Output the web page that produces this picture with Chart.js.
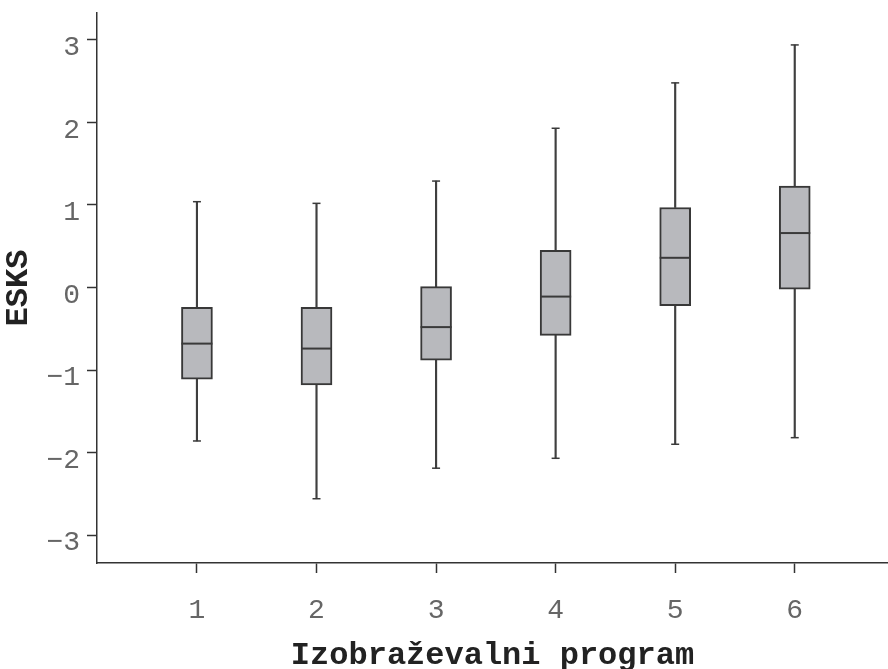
<!DOCTYPE html>
<html>
<head>
<meta charset="utf-8">
<script src="https://cdn.jsdelivr.net/npm/chart.js@4/dist/chart.umd.min.js"></script>
<style>
  html, body { margin: 0; padding: 0; background: #fff; }
</style>
</head>
<body>
<canvas id="chart" width="888" height="669"></canvas>
<script>
// box plot values
const programs = [1, 2, 3, 4, 5, 6];
const whiskerLow = [-1.86, -2.56, -2.19, -2.07, -1.90, -1.82];
const quartile1 = [-1.11, -1.18, -0.88, -0.58, -0.22, -0.02];
const medians = [-0.68, -0.74, -0.48, -0.11, 0.36, 0.66];
const quartile3 = [-0.24, -0.24, 0.01, 0.45, 0.97, 1.23];
const whiskerHigh = [1.04, 1.02, 1.29, 1.93, 2.48, 2.94];
const yTicks = [-3, -2, -1, 0, 1, 2, 3];

const BOX_WIDTH = 31;
const CAP_WIDTH = 8;

// caps and median lines, placed with the chart scales
const boxExtras = {
  id: 'boxExtras',
  afterDatasetsDraw(chart) {
    const { ctx, scales: { x, y } } = chart;
    ctx.save();
    ctx.strokeStyle = '#3a3a3a';
    programs.forEach((p, i) => {
      const px = x.getPixelForValue(p);
      ctx.lineWidth = 1.5;
      [whiskerLow[i], whiskerHigh[i]].forEach((v) => {
        const py = y.getPixelForValue(v);
        ctx.beginPath();
        ctx.moveTo(px - CAP_WIDTH / 2, py);
        ctx.lineTo(px + CAP_WIDTH / 2, py);
        ctx.stroke();
      });
      ctx.lineWidth = 2;
      const my = y.getPixelForValue(medians[i]);
      ctx.beginPath();
      ctx.moveTo(px - BOX_WIDTH / 2, my);
      ctx.lineTo(px + BOX_WIDTH / 2, my);
      ctx.stroke();
    });
    ctx.restore();
  },
};

const tickFont = { family: 'Liberation Mono', size: 28 };
const titleFont = { family: 'Liberation Mono', size: 32, weight: 'bold' };

const ctx = document.getElementById('chart').getContext('2d');
// eslint-disable-next-line no-unused-vars
const boxChart = new Chart(ctx, {
  type: 'bar',
  data: {
    datasets: [
      {
        data: programs.map((p, i) => ({ x: p, y: [whiskerLow[i], quartile1[i]] })),
        backgroundColor: '#3f3f3f',
        borderWidth: 0,
        barThickness: 1.5,
        grouped: false,
        order: 2,
      },
      {
        data: programs.map((p, i) => ({ x: p, y: [quartile3[i], whiskerHigh[i]] })),
        backgroundColor: '#3f3f3f',
        borderWidth: 0,
        barThickness: 1.5,
        grouped: false,
        order: 2,
      },
      {
        data: programs.map((p, i) => ({ x: p, y: [quartile1[i], quartile3[i]] })),
        backgroundColor: '#b8b9bd',
        borderColor: '#383838',
        borderWidth: 2,
        borderSkipped: false,
        barThickness: BOX_WIDTH,
        grouped: false,
        order: 1,
      },
    ],
  },
  options: {
    responsive: false,
    animation: false,
    layout: { padding: { top: 13, right: 0, bottom: 0, left: 0 } },
    plugins: {
      legend: { display: false },
      tooltip: { enabled: false },
    },
    scales: {
      x: {
        type: 'linear',
        min: 0.164,
        max: 6.78,
        offset: false,
        afterBuildTicks: (scale) => { scale.ticks = programs.map((v) => ({ value: v })); },
        afterFit: (scale) => {
          scale.height = 106;
          scale.paddingLeft = 0;
          scale.paddingRight = 0;
        },
        grid: {
          offset: false,
          drawOnChartArea: false,
          drawTicks: true,
          tickLength: 10,
          tickWidth: 1.5,
          tickColor: '#333',
        },
        border: { display: true, color: '#333', width: 1.5 },
        ticks: {
          font: tickFont,
          color: '#666',
          padding: 21,
          maxRotation: 0,
          callback: (v) => String(v),
        },
        title: {
          display: true,
          text: 'Izobraževalni program',
          font: titleFont,
          color: '#222',
          padding: { top: 0, bottom: -6 },
        },
      },
      y: {
        type: 'linear',
        min: -3.339,
        max: 3.327,
        afterBuildTicks: (scale) => { scale.ticks = yTicks.map((v) => ({ value: v })); },
        afterFit: (scale) => {
          scale.width = 97;
          scale.paddingTop = 0;
          scale.paddingBottom = 0;
        },
        grid: {
          drawOnChartArea: false,
          drawTicks: true,
          tickLength: 10,
          tickWidth: 1.5,
          tickColor: '#333',
        },
        border: { display: true, color: '#333', width: 1.5 },
        ticks: {
          font: tickFont,
          color: '#666',
          padding: 7,
          labelOffset: 8,
          callback: (v) => (v < 0 ? `\u2212${Math.abs(v)}` : String(v)),
        },
        title: {
          display: true,
          text: 'ESKS',
          font: titleFont,
          color: '#222',
          padding: { top: 0, bottom: 0 },
        },
      },
    },
  },
  plugins: [boxExtras],
});
</script>
</body>
</html>
